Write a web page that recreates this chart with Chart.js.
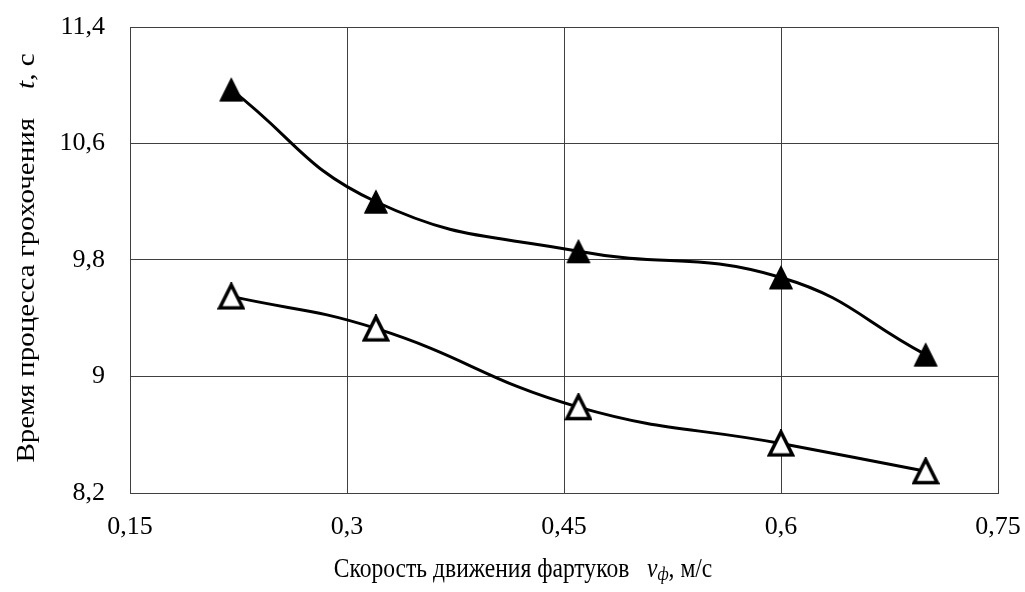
<!DOCTYPE html>
<html>
<head>
<meta charset="utf-8">
<script src="https://cdn.jsdelivr.net/npm/chart.js@4/dist/chart.umd.min.js"></script>
<style>
html,body{margin:0;padding:0;background:#fff}
</style>
</head>
<body>
<canvas id="grafico" width="1025" height="592"></canvas>
<script>
// скорость движения фартуков, м/с
let skorost=[0.22,0.32,0.46,0.6,0.7]
// время процесса грохочения, с
let vremyaVerh=[10.97,10.2,9.86,9.68,9.15]
let vremyaNiz=[9.55,9.33,8.79,8.54,8.35]
let ticksX=[0.15,0.3,0.45,0.6,0.75]
let ticksY=[8.2,9,9.8,10.6,11.4]

let shrift='"Liberation Serif", "Times New Roman", serif'

function tochki(ys){
return skorost.map((x,i)=>({x:x,y:ys[i]}))
}

function zapyataya(v){
return String(v).replace(".",",")
}

// треугольник как в экселе (центр по рамке)
function treugolnik(zalivka){
let c=document.createElement("canvas")
c.width=28
c.height=28
let g=c.getContext("2d")
g.beginPath()
g.moveTo(14,2.5)
g.lineTo(25.5,25.5)
g.lineTo(2.5,25.5)
g.closePath()
g.lineJoin="miter"
if(zalivka){
g.fillStyle="#000"
g.fill()
g.lineWidth=1
g.strokeStyle="#000"
g.stroke()
}else{
g.fillStyle="#fff"
g.fill()
g.lineWidth=3.5
g.strokeStyle="#000"
g.stroke()
}
return c
}

// подписи осей с курсивом
function risovat(ctx,chasti,cx,cy){
let w=0
chasti.forEach(c=>{ctx.font=c.f;w+=ctx.measureText(c.t).width})
let x=cx-w/2
chasti.forEach(c=>{
ctx.font=c.f
ctx.fillText(c.t,x,cy+(c.dy||0))
x+=ctx.measureText(c.t).width
})
}

let podpisX=[
{t:"Скорость движения фартуков",f:"27px "+shrift},
{t:"   ",f:"27px "+shrift},
{t:"v",f:"italic 27px "+shrift},
{t:"ф",f:"italic 18px "+shrift,dy:5},
{t:", м/с",f:"27px "+shrift}
]
let podpisY=[
{t:"Время процесса грохочения",f:"29px "+shrift},
{t:"    ",f:"29px "+shrift},
{t:"t",f:"italic 29px "+shrift},
{t:", с",f:"29px "+shrift}
]

const podpisi={
id:"podpisi",
afterDraw(chart){
let ctx=chart.ctx
ctx.save()
ctx.fillStyle="#000"
ctx.textBaseline="middle"
ctx.textAlign="left"
ctx.translate(523,570)
ctx.scale(0.873,1)
risovat(ctx,podpisX,0,0)
ctx.restore()
ctx.save()
ctx.fillStyle="#000"
ctx.textBaseline="middle"
ctx.textAlign="left"
ctx.translate(27,258)
ctx.rotate(-Math.PI/2)
ctx.scale(1,0.87)
risovat(ctx,podpisY,0,0)
ctx.restore()
}
}

function bezOtstupov(s){
s.paddingTop=0
s.paddingBottom=0
s.paddingLeft=0
s.paddingRight=0
}

let ctx=document.getElementById("grafico")
new Chart(ctx,{
type:"scatter",
data:{datasets:[
{data:tochki(vremyaVerh),showLine:true,tension:0.45,borderColor:"#000",borderWidth:3,
pointStyle:treugolnik(true),pointRadius:13},
{data:tochki(vremyaNiz),showLine:true,tension:0.45,borderColor:"#000",borderWidth:3,
pointStyle:treugolnik(false),pointRadius:13}
]},
options:{
responsive:false,
animation:false,
layout:{padding:{left:0,top:27,right:27,bottom:0}},
plugins:{legend:{display:false},tooltip:{enabled:false}},
scales:{
x:{
min:0.15,max:0.75,
afterBuildTicks:s=>{s.ticks=ticksX.map(v=>({value:v}))},
afterFit:s=>{s.height=99;bezOtstupov(s)},
grid:{color:"#404040",lineWidth:1,drawTicks:false},
border:{color:"#404040",width:1},
ticks:{padding:19,color:"#000",font:{family:shrift,size:26},callback:v=>zapyataya(v),maxRotation:0,autoSkip:false}
},
y:{
min:8.2,max:11.4,
afterBuildTicks:s=>{s.ticks=ticksY.map(v=>({value:v}))},
afterFit:s=>{s.width=130;bezOtstupov(s)},
grid:{color:"#404040",lineWidth:1,drawTicks:false},
border:{color:"#404040",width:1},
ticks:{padding:25,color:"#000",font:{family:shrift,size:26},callback:v=>zapyataya(v),autoSkip:false}
}
}
},
plugins:[podpisi]
})
</script>
</body>
</html>
